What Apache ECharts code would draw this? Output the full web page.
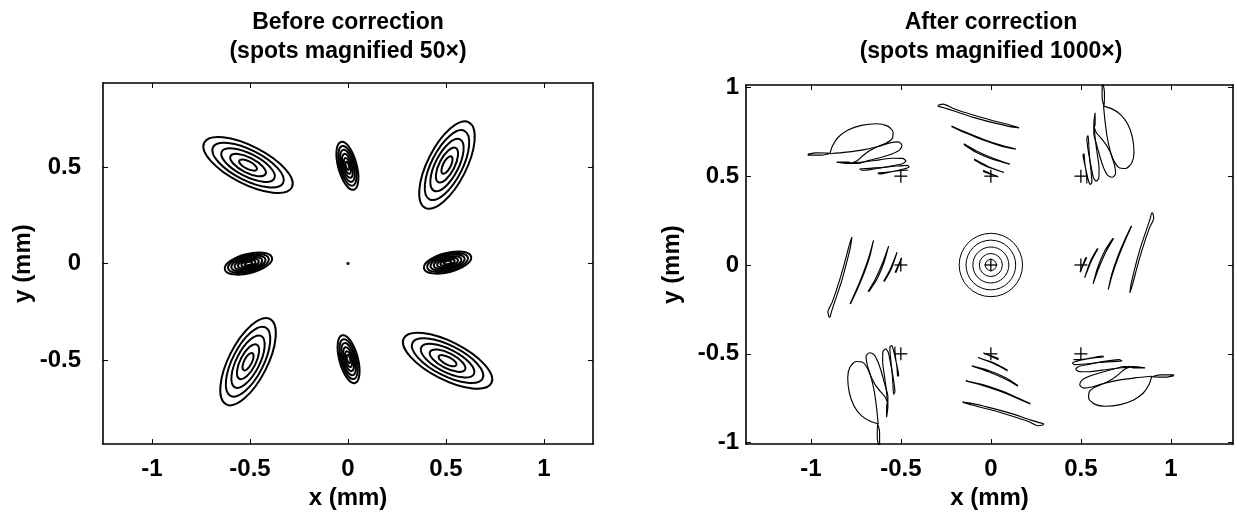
<!DOCTYPE html>
<html>
<head>
<meta charset="utf-8">
<script src="https://cdn.jsdelivr.net/npm/echarts@6/dist/echarts.min.js"></script>
<style>
  body { margin: 0; background: #fff; }
  #chart { width: 1237px; height: 515px; }
</style>
</head>
<body>
<div id="chart"></div>
<script>
// ---- left panel: contour ellipses of each spot (centre, semi-axes, tilt in degrees)
const leftSpotX = [-0.51, -0.003, 0.505, -0.508, 0.508, -0.51, 0.003, 0.508];
const leftSpotY = [0.51, 0.506, 0.51, 0.0, 0.005, -0.508, -0.495, -0.503];
const leftSpotA = [0.251, 0.126, 0.245, 0.124, 0.124, 0.245, 0.126, 0.251];
const leftSpotB = [0.098, 0.048, 0.1, 0.05, 0.05, 0.1, 0.048, 0.098];
const leftSpotAngle = [-27, 105, 63, 14, 14, 63, 105, -27];
const leftSpotKind = ['big', 'small', 'big', 'mid', 'mid', 'big', 'small', 'big'];
const bigRings = [1, 0.8, 0.6, 0.4, 0.2];
const smallRings = [1, 0.83, 0.67, 0.5, 0.33, 0.17];
const midRings = [1, 0.86, 0.72, 0.58, 0.44, 0.3, 0.16];
const centreDot = [[0, 0]];

// ---- right panel
const plusX = [-0.5, 0, 0.5, -0.5, 0, 0.5, -0.5, 0, 0.5];
const plusY = [0.5, 0.5, 0.5, 0, 0, 0, -0.5, -0.5, -0.5];
const centreRings = [0.176, 0.138, 0.1, 0.064, 0.031];

const spotTopLeft = [
  [[-1.015,0.624],[-0.969,0.631],[-0.894,0.629],[-0.941,0.618],[-1.015,0.618],[-1.015,0.624]],
  [[-0.894,0.626],[-0.880,0.670],[-0.848,0.719],[-0.793,0.760],[-0.719,0.786],[-0.635,0.795],[-0.576,0.783],[-0.543,0.749],[-0.548,0.711],[-0.583,0.685],[-0.631,0.665],[-0.676,0.641],[-0.713,0.613],[-0.743,0.587],[-0.774,0.574]],
  [[-0.894,0.626],[-0.802,0.635],[-0.709,0.648],[-0.626,0.667],[-0.561,0.687],[-0.515,0.693],[-0.494,0.674],[-0.506,0.648],[-0.543,0.628],[-0.598,0.609],[-0.654,0.594],[-0.700,0.581],[-0.737,0.572],[-0.793,0.572],[-0.857,0.579],[-0.793,0.579],[-0.774,0.574]],
  [[-0.774,0.574],[-0.700,0.581],[-0.617,0.592],[-0.546,0.601],[-0.491,0.600],[-0.472,0.585],[-0.491,0.570],[-0.543,0.559],[-0.607,0.547],[-0.663,0.538],[-0.713,0.533],[-0.728,0.540],[-0.672,0.544]],
  [[-0.672,0.544],[-0.598,0.549],[-0.524,0.557],[-0.463,0.561],[-0.454,0.551],[-0.483,0.540],[-0.533,0.529],[-0.583,0.518],[-0.620,0.512],[-0.626,0.518],[-0.580,0.521],[-0.524,0.529],[-0.478,0.533],[-0.459,0.533]]
];
const spotTopRight = [
  [[0.624,1.015],[0.631,0.969],[0.629,0.894],[0.618,0.941],[0.618,1.015],[0.624,1.015]],
  [[0.626,0.894],[0.670,0.880],[0.719,0.848],[0.760,0.793],[0.786,0.719],[0.795,0.635],[0.783,0.576],[0.749,0.543],[0.711,0.548],[0.685,0.583],[0.665,0.631],[0.641,0.676],[0.613,0.713],[0.587,0.743],[0.574,0.774]],
  [[0.626,0.894],[0.635,0.802],[0.648,0.709],[0.667,0.626],[0.687,0.561],[0.693,0.515],[0.674,0.494],[0.648,0.506],[0.628,0.543],[0.609,0.598],[0.594,0.654],[0.581,0.700],[0.572,0.737],[0.572,0.793],[0.579,0.857],[0.579,0.793],[0.574,0.774]],
  [[0.574,0.774],[0.581,0.700],[0.592,0.617],[0.601,0.546],[0.600,0.491],[0.585,0.472],[0.570,0.491],[0.559,0.543],[0.547,0.607],[0.538,0.663],[0.533,0.713],[0.540,0.728],[0.544,0.672]],
  [[0.544,0.672],[0.549,0.598],[0.557,0.524],[0.561,0.463],[0.551,0.454],[0.540,0.483],[0.529,0.533],[0.518,0.583],[0.512,0.620],[0.518,0.626],[0.521,0.580],[0.529,0.524],[0.533,0.478],[0.533,0.459]]
];
const spotBottomRight = [
  [[1.015,-0.624],[0.969,-0.631],[0.894,-0.629],[0.941,-0.618],[1.015,-0.618],[1.015,-0.624]],
  [[0.894,-0.626],[0.880,-0.670],[0.848,-0.719],[0.793,-0.760],[0.719,-0.786],[0.635,-0.795],[0.576,-0.783],[0.543,-0.749],[0.548,-0.711],[0.583,-0.685],[0.631,-0.665],[0.676,-0.641],[0.713,-0.613],[0.743,-0.587],[0.774,-0.574]],
  [[0.894,-0.626],[0.802,-0.635],[0.709,-0.648],[0.626,-0.667],[0.561,-0.687],[0.515,-0.693],[0.494,-0.674],[0.506,-0.648],[0.543,-0.628],[0.598,-0.609],[0.654,-0.594],[0.700,-0.581],[0.737,-0.572],[0.793,-0.572],[0.857,-0.579],[0.793,-0.579],[0.774,-0.574]],
  [[0.774,-0.574],[0.700,-0.581],[0.617,-0.592],[0.546,-0.601],[0.491,-0.600],[0.472,-0.585],[0.491,-0.570],[0.543,-0.559],[0.607,-0.547],[0.663,-0.538],[0.713,-0.533],[0.728,-0.540],[0.672,-0.544]],
  [[0.672,-0.544],[0.598,-0.549],[0.524,-0.557],[0.463,-0.561],[0.454,-0.551],[0.483,-0.540],[0.533,-0.529],[0.583,-0.518],[0.620,-0.512],[0.626,-0.518],[0.580,-0.521],[0.524,-0.529],[0.478,-0.533],[0.459,-0.533]]
];
const spotBottomLeft = [
  [[-0.624,-1.015],[-0.631,-0.969],[-0.629,-0.894],[-0.618,-0.941],[-0.618,-1.015],[-0.624,-1.015]],
  [[-0.626,-0.894],[-0.670,-0.880],[-0.719,-0.848],[-0.760,-0.793],[-0.786,-0.719],[-0.795,-0.635],[-0.783,-0.576],[-0.749,-0.543],[-0.711,-0.548],[-0.685,-0.583],[-0.665,-0.631],[-0.641,-0.676],[-0.613,-0.713],[-0.587,-0.743],[-0.574,-0.774]],
  [[-0.626,-0.894],[-0.635,-0.802],[-0.648,-0.709],[-0.667,-0.626],[-0.687,-0.561],[-0.693,-0.515],[-0.674,-0.494],[-0.648,-0.506],[-0.628,-0.543],[-0.609,-0.598],[-0.594,-0.654],[-0.581,-0.700],[-0.572,-0.737],[-0.572,-0.793],[-0.579,-0.857],[-0.579,-0.793],[-0.574,-0.774]],
  [[-0.574,-0.774],[-0.581,-0.700],[-0.592,-0.617],[-0.601,-0.546],[-0.600,-0.491],[-0.585,-0.472],[-0.570,-0.491],[-0.559,-0.543],[-0.547,-0.607],[-0.538,-0.663],[-0.533,-0.713],[-0.540,-0.728],[-0.544,-0.672]],
  [[-0.544,-0.672],[-0.549,-0.598],[-0.557,-0.524],[-0.561,-0.463],[-0.551,-0.454],[-0.540,-0.483],[-0.529,-0.533],[-0.518,-0.583],[-0.512,-0.620],[-0.518,-0.626],[-0.521,-0.580],[-0.529,-0.524],[-0.533,-0.478],[-0.533,-0.459]]
];
const spotTopCentre = [
  [[-0.293,0.899],[-0.265,0.905],[-0.209,0.881],[-0.098,0.844],[0.013,0.812],[0.106,0.788],[0.157,0.772],[0.106,0.779],[0.013,0.801],[-0.098,0.831],[-0.209,0.868],[-0.265,0.886],[-0.293,0.894],[-0.293,0.899]],
  [[-0.219,0.782],[-0.135,0.745],[-0.043,0.708],[0.050,0.676],[0.139,0.652],[0.050,0.672],[-0.043,0.703],[-0.135,0.741],[-0.219,0.780]],
  [[-0.150,0.682],[-0.080,0.642],[0.013,0.601],[0.106,0.568],[0.013,0.594],[-0.080,0.633],[-0.150,0.678]],
  [[-0.093,0.596],[-0.024,0.559],[0.072,0.521],[-0.024,0.554],[-0.093,0.592]],
  [[-0.043,0.533],[0.041,0.495],[-0.043,0.527]]
];
const spotMidRight = [
  [[0.899,0.293],[0.905,0.265],[0.881,0.209],[0.844,0.098],[0.812,-0.013],[0.788,-0.106],[0.772,-0.157],[0.779,-0.106],[0.801,-0.013],[0.831,0.098],[0.868,0.209],[0.886,0.265],[0.894,0.293],[0.899,0.293]],
  [[0.782,0.219],[0.745,0.135],[0.708,0.043],[0.676,-0.050],[0.652,-0.139],[0.672,-0.050],[0.703,0.043],[0.741,0.135],[0.780,0.219]],
  [[0.682,0.150],[0.642,0.080],[0.601,-0.013],[0.568,-0.106],[0.594,-0.013],[0.633,0.080],[0.678,0.150]],
  [[0.596,0.093],[0.559,0.024],[0.521,-0.072],[0.554,0.024],[0.592,0.093]],
  [[0.533,0.043],[0.495,-0.041],[0.527,0.043]]
];
const spotBottomCentre = [
  [[0.293,-0.899],[0.265,-0.905],[0.209,-0.881],[0.098,-0.844],[-0.013,-0.812],[-0.106,-0.788],[-0.157,-0.772],[-0.106,-0.779],[-0.013,-0.801],[0.098,-0.831],[0.209,-0.868],[0.265,-0.886],[0.293,-0.894],[0.293,-0.899]],
  [[0.219,-0.782],[0.135,-0.745],[0.043,-0.708],[-0.050,-0.676],[-0.139,-0.652],[-0.050,-0.672],[0.043,-0.703],[0.135,-0.741],[0.219,-0.780]],
  [[0.150,-0.682],[0.080,-0.642],[-0.013,-0.601],[-0.106,-0.568],[-0.013,-0.594],[0.080,-0.633],[0.150,-0.678]],
  [[0.093,-0.596],[0.024,-0.559],[-0.072,-0.521],[0.024,-0.554],[0.093,-0.592]],
  [[0.043,-0.533],[-0.041,-0.495],[0.043,-0.527]]
];
const spotMidLeft = [
  [[-0.899,-0.293],[-0.905,-0.265],[-0.881,-0.209],[-0.844,-0.098],[-0.812,0.013],[-0.788,0.106],[-0.772,0.157],[-0.779,0.106],[-0.801,0.013],[-0.831,-0.098],[-0.868,-0.209],[-0.886,-0.265],[-0.894,-0.293],[-0.899,-0.293]],
  [[-0.782,-0.219],[-0.745,-0.135],[-0.708,-0.043],[-0.676,0.050],[-0.652,0.139],[-0.672,0.050],[-0.703,-0.043],[-0.741,-0.135],[-0.780,-0.219]],
  [[-0.682,-0.150],[-0.642,-0.080],[-0.601,0.013],[-0.568,0.106],[-0.594,0.013],[-0.633,-0.080],[-0.678,-0.150]],
  [[-0.596,-0.093],[-0.559,-0.024],[-0.521,0.072],[-0.554,-0.024],[-0.592,-0.093]],
  [[-0.533,-0.043],[-0.495,0.041],[-0.527,-0.043]]
];

const leftTicksX = [-1, -0.5, 0, 0.5, 1];
const leftTicksY = [-0.5, 0, 0.5];
const rightTicksX = [-1, -0.5, 0, 0.5, 1];
const rightTicksY = [-1, -0.5, 0, 0.5, 1];

const FONT = "'Liberation Sans', Arial, Helvetica, sans-serif";

function makeAxis(grid, pos, min, max, ticks, name, nameGap, labelMargin) {
  const labelled = pos === 'bottom' || pos === 'left';
  return {
    type: 'value', gridIndex: grid, position: pos, min: min, max: max,
    name: labelled ? name : '', nameLocation: 'middle', nameGap: nameGap,
    nameTextStyle: { fontFamily: FONT, fontSize: 24, fontWeight: 'bold', color: '#000' },
    axisLine: { show: true, onZero: false, lineStyle: { color: '#000', width: 1.6 } },
    axisTick: { show: true, inside: true, length: 5, customValues: ticks, lineStyle: { color: '#000', width: 1 } },
    axisLabel: {
      show: labelled, customValues: ticks, margin: labelMargin,
      fontFamily: FONT, fontSize: 24, fontWeight: 'bold', color: '#000',
      formatter: function (v) { return String(v); }
    },
    splitLine: { show: false }
  };
}

// left ellipse items
const ringSets = { big: bigRings, small: smallRings, mid: midRings };
const leftEllipses = [];
for (let i = 0; i < leftSpotX.length; i++) {
  ringSets[leftSpotKind[i]].forEach(function (s) {
    leftEllipses.push([leftSpotX[i], leftSpotY[i], leftSpotA[i] * s, leftSpotB[i] * s, leftSpotAngle[i]]);
  });
}

const plusData = plusX.map(function (x, i) { return [x, plusY[i]]; });
const ringData = centreRings.map(function (r) { return [0, 0, r]; });

const series = [
  {
    type: 'custom', xAxisIndex: 0, yAxisIndex: 0, data: leftEllipses, silent: true,
    renderItem: function (params, api) {
      const c = api.coord([api.value(0), api.value(1)]);
      const rx = api.size([api.value(2), 0])[0];
      const ry = api.size([0, api.value(3)])[1];
      return {
        type: 'ellipse', x: c[0], y: c[1], rotation: api.value(4) * Math.PI / 180,
        shape: { cx: 0, cy: 0, rx: rx, ry: ry },
        style: { fill: 'none', stroke: '#000', lineWidth: 2 }
      };
    }
  },
  {
    type: 'scatter', xAxisIndex: 0, yAxisIndex: 0, data: centreDot, symbolSize: 3.5,
    itemStyle: { color: '#000' }, silent: true
  },
  {
    type: 'custom', xAxisIndex: 2, yAxisIndex: 2, data: ringData, silent: true,
    renderItem: function (params, api) {
      const c = api.coord([api.value(0), api.value(1)]);
      const r = api.size([api.value(2), 0])[0];
      return {
        type: 'circle', shape: { cx: c[0], cy: c[1], r: r },
        style: { fill: 'none', stroke: '#000', lineWidth: 1 }
      };
    }
  },
  {
    type: 'custom', xAxisIndex: 2, yAxisIndex: 2, data: plusData, silent: true,
    renderItem: function (params, api) {
      const c = api.coord([api.value(0), api.value(1)]);
      const h = 6.5;
      const st = { stroke: '#000', lineWidth: 1.3 };
      return {
        type: 'group', children: [
          { type: 'line', shape: { x1: c[0] - h, y1: c[1], x2: c[0] + h, y2: c[1] }, style: st },
          { type: 'line', shape: { x1: c[0], y1: c[1] - h, x2: c[0], y2: c[1] + h }, style: st }
        ]
      };
    }
  }
];

[spotTopLeft, spotTopCentre, spotTopRight, spotMidLeft, spotMidRight,
 spotBottomLeft, spotBottomCentre, spotBottomRight].forEach(function (spot) {
  spot.forEach(function (piece) {
    series.push({
      type: 'line', xAxisIndex: 2, yAxisIndex: 2, data: piece,
      showSymbol: false, symbol: 'none', smooth: 0.25, silent: true,
      lineStyle: { color: '#000', width: 1.15 }
    });
  });
});

const chart = echarts.init(document.getElementById('chart'));
chart.setOption({
  animation: false,
  backgroundColor: '#fff',
  grid: [
    { left: 103, top: 83, width: 490, height: 366 },
    { left: 746, top: 85, width: 487, height: 362 }
  ],
  xAxis: [
    makeAxis(0, 'bottom', -1.25, 1.25, leftTicksX, 'x (mm)', 36, 13),
    makeAxis(0, 'top', -1.25, 1.25, leftTicksX, '', 0, 0),
    makeAxis(1, 'bottom', -1.36, 1.345, rightTicksX, 'x (mm)', 38, 13),
    makeAxis(1, 'top', -1.36, 1.345, rightTicksX, '', 0, 0)
  ],
  yAxis: [
    makeAxis(0, 'left', -0.935, 0.935, leftTicksY, 'y (mm)', 62, 22),
    makeAxis(0, 'right', -0.935, 0.935, leftTicksY, '', 0, 0),
    makeAxis(1, 'left', -1.008, 1.013, rightTicksY, 'y (mm)', 62, 7),
    makeAxis(1, 'right', -1.008, 1.013, rightTicksY, '', 0, 0)
  ],
  graphic: [
    { type: 'text', x: 348, y: 23, style: { text: 'Before correction', font: 'bold 23px ' + FONT, fill: '#000', align: 'center', verticalAlign: 'middle' } },
    { type: 'text', x: 348, y: 52, style: { text: '(spots magnified 50×)', font: 'bold 23px ' + FONT, fill: '#000', align: 'center', verticalAlign: 'middle' } },
    { type: 'text', x: 991, y: 23, style: { text: 'After correction', font: 'bold 23px ' + FONT, fill: '#000', align: 'center', verticalAlign: 'middle' } },
    { type: 'text', x: 991, y: 52, style: { text: '(spots magnified 1000×)', font: 'bold 23px ' + FONT, fill: '#000', align: 'center', verticalAlign: 'middle' } }
  ],
  series: series
});
</script>
</body>
</html>
